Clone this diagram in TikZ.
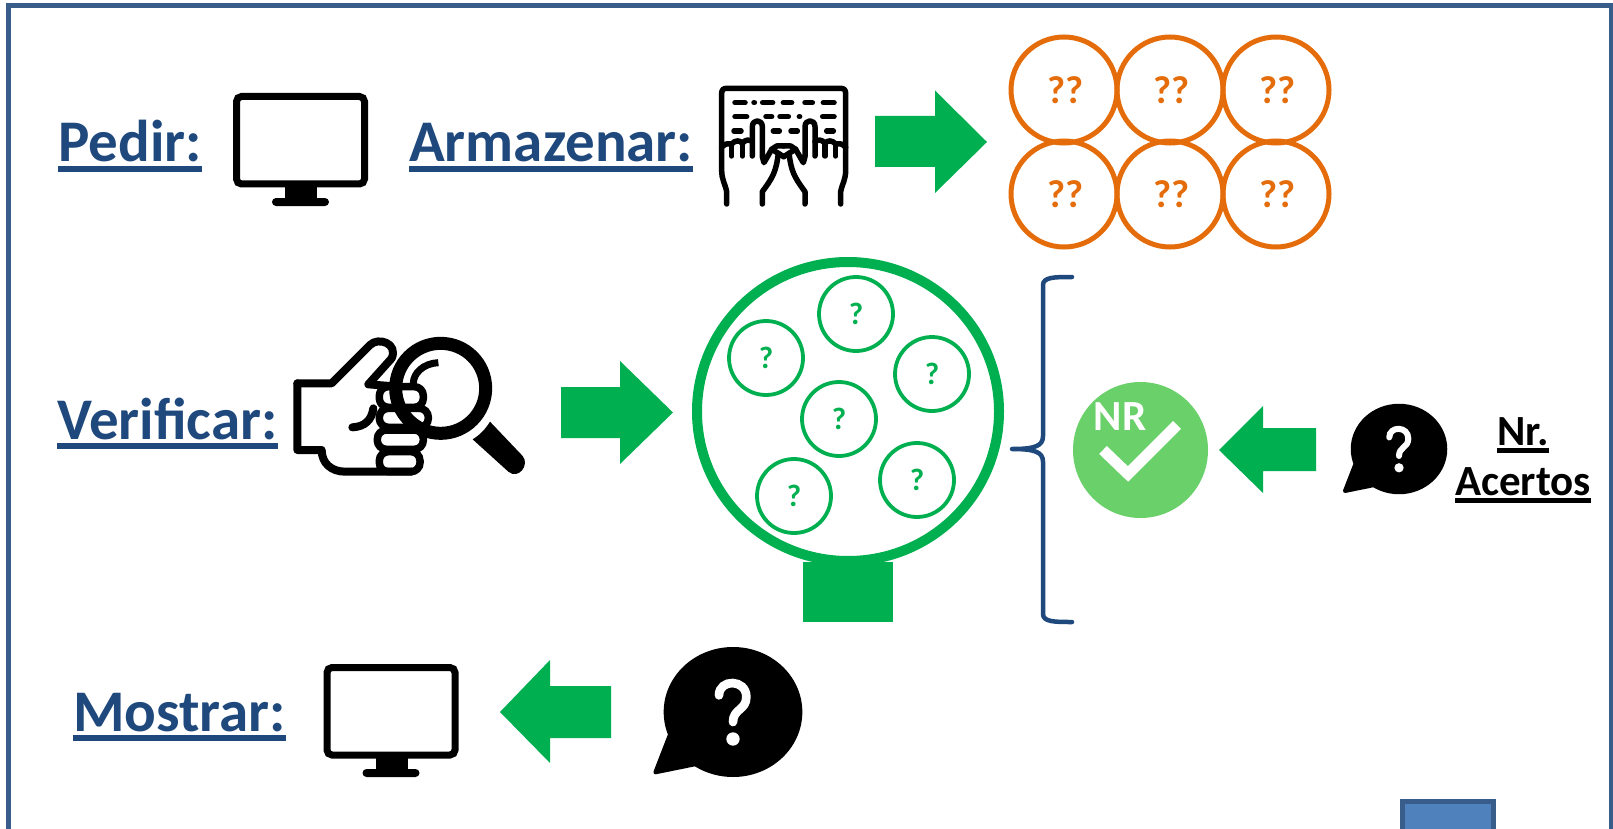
\documentclass[tikz,border=0pt]{standalone}
\usepackage{fontspec}
\setmainfont{Carlito}
\definecolor{framec}{HTML}{385D8A}
\definecolor{fillc}{HTML}{4F81BD}
\definecolor{titlec}{HTML}{1F497D}
\definecolor{greenc}{HTML}{00B050}
\definecolor{lightg}{HTML}{69D06A}
\definecolor{orangec}{HTML}{E46C0A}
\newcommand\ulbf[1]{\setbox0=\hbox{#1}\rlap{\raisebox{-.175em}{\rule{\wd0}{.1em}}}\box0}
\newcommand\monitoricon{%
  \draw[line width=7,rounded corners=5] (236.5,96.5) rectangle (364.5,184);
  \fill (285,186) rectangle (317,200);
  \fill[rounded corners=4] (272,198) rectangle (329,206);
}
% bubble centred on (0,0), in zoom units
\newcommand\bubbleicon[3]{%
  \begin{scope}[shift={(#1,#2)},scale=#3]
    \fill (0,0) ellipse[x radius=208,y radius=195];
    \fill[line join=round,draw=black,line width=4] (-190,70) -- (-233,181) -- (-105,155) -- cycle;
    \draw[white,line cap=round,line width=#3*26] (-42,-50) .. controls (-42,-100) and (40,-100) .. (40,-45) .. controls (40,-5) and (0,-10) .. (0,30);
    \fill[white] (0,81) circle[radius=20];
  \end{scope}
}
\newcommand\lefthand{%
  \draw[hl] (140,432) -- (140,395) .. controls (135,370) and (125,360) .. (125,330) -- (125,262) .. controls (135,250) and (145,250) .. (155,252) .. controls (165,240) and (180,240) .. (187,250) .. controls (195,238) and (210,238) .. (217,245);
  \draw[hl] (155,252) -- (155,288);
  \draw[hl] (187,250) -- (187,288);
  \draw[hl] (217,288) -- (217,200) .. controls (217,177) and (247,177) .. (247,200) -- (247,290) -- (252,308) -- (275,268) -- (290,258) -- (311,258);
  \draw[hl] (295,280) .. controls (288,335) and (280,350) .. (247,395) -- (247,432);
  \draw[hl] (275,268) -- (295,280) -- (311,290);
}
\newcommand\qq{\hspace*{3pt}\raisebox{-1pt}{??}}
\tikzset{
  title/.style={anchor=base west,inner sep=0pt,text=titlec,font=\fontsize{59}{60}\selectfont\bfseries},
  nrtxt/.style={anchor=base,inner sep=0pt,text=black,font=\fontsize{43}{45}\selectfont\bfseries},
  orangecirc/.style={circle,draw=orangec,line width=5,minimum size=106,inner sep=0pt,text=orangec,font=\fontsize{39}{40}\selectfont\bfseries},
  greencirc/.style={circle,draw=greenc,line width=3.8,minimum size=74,inner sep=0pt,text=greenc,font=\fontsize{31}{32}\selectfont\bfseries},
  blockarrow/.style={fill=greenc},
  hl/.style={line width=5.5,line cap=round,line join=round},
  kd/.style={line width=5.5,line cap=round},
  fh/.style={line width=8,line join=round,line cap=round},
}
\begin{document}
\begin{tikzpicture}[x=1pt,y=-1pt]
\useasboundingbox (0,0) rectangle (1613,829);
% frame
\path[clip] (0,0) rectangle (1613,829);
\draw[framec,line width=5] (8,900) |- (1611,6) -- (1611,900);
\filldraw[fill=fillc,draw=framec,line width=5] (1402.5,801.5) rectangle (1493.5,900);
% titles
\node[title] (pedir) at (58,162) {\ulbf{Pedir:}};
\node[title] (armazenar) at (409,162) {\ulbf{Armazenar:}};
\node[title] (verificar) at (57,439) {\ulbf{Verificar:}};
\node[title] (mostrar) at (73,731) {\ulbf{Mostrar:}};
% monitors
\monitoricon
\begin{scope}[shift={(90.5,571)}]\monitoricon\end{scope}
% keyboard
\begin{scope}[shift={(680,60)},scale=1/3]
  \draw[hl] (125,262) -- (125,100) .. controls (125,90) and (130,85) .. (140,85) -- (482,85) .. controls (492,85) and (497,90) .. (497,100) -- (497,262);
  \foreach \a/\b/\y in {165/195/128,222/223/128,248/278/128,310/335/128,375/397/128,430/462/128,
     165/200/170,258/275/170,300/325/170,358/359/170,428/462/170,
     162/183/213,280/298/213,333/352/213,440/460/213}
    \draw[kd] (\a,\y) -- (\b,\y);
  \lefthand
  \begin{scope}[shift={(622,0)},xscale=-1]\lefthand\end{scope}
\end{scope}
% orange circles
\node[orangecirc] (o1) at (1064,90) {\qq};
\node[orangecirc] (o2) at (1170,90) {\qq};
\node[orangecirc] (o3) at (1276,90) {\qq};
\node[orangecirc] (o4) at (1064,194) {\qq};
\node[orangecirc] (o5) at (1170,194) {\qq};
\node[orangecirc] (o6) at (1276,194) {\qq};
% block arrows
\fill[blockarrow] (875,116) -- (935,116) -- (935,90.5) -- (987,142) -- (935,193) -- (935,167) -- (875,167) -- cycle;
\fill[blockarrow] (561,387) -- (620,387) -- (620,361) -- (673,412.5) -- (620,464) -- (620,438) -- (561,438) -- cycle;
\fill[blockarrow] (611,686) -- (550,686) -- (550,660) -- (500,712) -- (550,763) -- (550,738) -- (611,738) -- cycle;
\fill[blockarrow] (1316,428) -- (1263,428) -- (1263,406) -- (1219,450) -- (1263,493) -- (1263,471) -- (1316,471) -- cycle;
% magnifier hand
\begin{scope}[shift={(280,320)},scale=1/3]
  \draw[fh] (52,190) -- (155,190) -- (270,75) .. controls (295,50) and (355,70) .. (335,115) -- (265,193) -- (330,198);
  \draw[fh] (52,190) -- (52,390) -- (125,390) .. controls (125,430) and (155,455) .. (195,455) -- (395,455);
  \draw[line width=7.5,rounded corners=9,line join=round] (298,200) rectangle (430,262);
  \draw[line width=7.5,rounded corners=9] (298,265) rectangle (445,322);
  \draw[line width=7.5,rounded corners=9] (292,330) rectangle (430,388);
  \draw[line width=7.5,rounded corners=9] (298,395) rectangle (420,455);
  \draw[fh] (217,322) .. controls (255,320) and (275,300) .. (280,265);
  \draw[line width=13] (482,205) circle[radius=135];
  \draw[line width=7] (475,128) .. controls (430,130) and (400,160) .. (400,190);
  \fill[line join=round] (630,305) -- (728,408) .. controls (750,435) and (715,480) .. (685,455) -- (578,358) .. controls (600,345) and (618,325) .. (630,305) -- cycle;
\end{scope}
% tank
\fill[greenc] (803,562) rectangle (893,622);
\draw[greenc,line width=10,fill=white] (848,411.5) ellipse[x radius=151,y radius=149.5];
\node[greencirc] (g1) at (856,314) {?};
\node[greencirc] (g2) at (766,358) {?};
\node[greencirc] (g3) at (932,374) {?};
\node[greencirc] (g4) at (839,419) {?};
\node[greencirc] (g5) at (917,480) {?};
\node[greencirc] (g6) at (794,496) {?};
% brace
\draw[titlec,line width=4.5,line cap=round,line join=round] (1072,277) .. controls (1055,277) and (1043,277) .. (1043,285) -- (1043,436) .. controls (1043,446) and (1035,449) .. (1012,449) .. controls (1035,449) and (1043,452) .. (1043,462) -- (1043,614) .. controls (1043,622) and (1055,622) .. (1072,622);
% NR badge
\fill[lightg] (1140.5,450) ellipse[x radius=67.5,y radius=68];
\node[inner sep=0pt,text=white,font=\fontsize{43}{45}\selectfont\bfseries] (nr) at (1120,417) {NR};
\draw[white,line width=11] (1103,450) -- (1128,474) -- (1177,425);
% bubbles
\bubbleicon{1399}{449}{0.232}
\bubbleicon{733}{712}{1/3}
% labels
\node[nrtxt] (nrlab) at (1523,445) {\ulbf{Nr.}};
\node[nrtxt] (acertos) at (1523,495) {\ulbf{Acertos}};
\end{tikzpicture}
\end{document}
